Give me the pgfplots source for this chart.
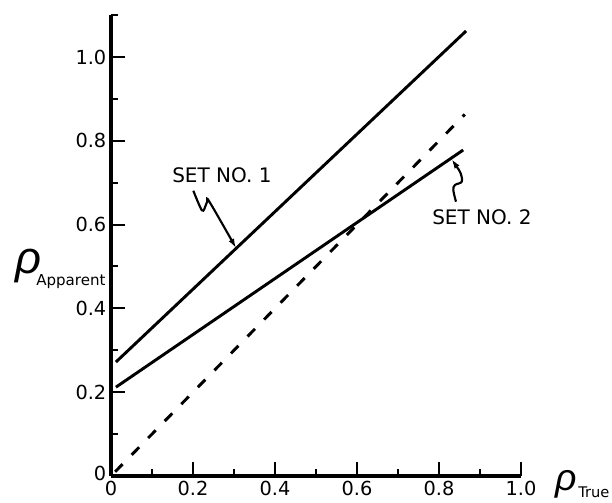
\documentclass[border=0pt]{standalone}
\usepackage{fontspec}
\setmainfont{DejaVu Sans}
\newfontfamily\rhofont{Liberation Sans}
\usepackage{pgfplots}
\pgfplotsset{compat=1.18}
\usetikzlibrary{arrows.meta}
\begin{document}
\begin{tikzpicture}
\begin{axis}[
  anchor=origin, at={(0,0)},
  x=307.5pt, y=314.25pt,
  xmin=0, xmax=1, ymin=0, ymax=1.1,
  axis lines*=left,
  axis line style={line width=2.4pt},
  xtick={0,0.2,0.4,0.6,0.8,1.0},
  xticklabels={0,0.2,0.4,0.6,0.8,1.0},
  minor xtick={0.1,0.3,0.5,0.7,0.9},
  ytick={0,0.2,0.4,0.6,0.8,1.0},
  yticklabels={\raisebox{4pt}{0},0.2,0.4,0.6,0.8,1.0},
  minor ytick={0.1,0.3,0.5,0.7,0.9,1.1},
  tick align=inside,
  major tick length=10.5pt, minor tick length=5pt,
  every tick/.style={black, line width=1.5pt},
  ticklabel style={font=\fontsize{14.5}{14.5}\selectfont},
  clip=false,
]
\addplot[black, line width=2.2pt] coordinates {(0.012,0.272) (0.866,1.062)};
\addplot[black, line width=2.2pt] coordinates {(0.012,0.212) (0.859,0.778)};
\addplot[black, line width=2.2pt, dash pattern=on 8pt off 9.75pt] coordinates {(0.01,0.01) (0.863,0.863)};
\coordinate (O) at (axis cs:0,0);
\end{axis}
\begin{scope}[shift={(O)}, shift={(-83.25pt,357pt)}, x=0.75pt, y=-0.75pt]
\node[anchor=base west, inner sep=0, font=\fontsize{15}{15}\selectfont] at (172,183) {SET NO. 1};
\node[anchor=base west, inner sep=0, font=\fontsize{15}{15}\selectfont] at (432,225) {SET NO. 2};
\draw[line width=1.6pt, -{Latex[length=7pt,width=4.5pt]}] plot[smooth, tension=0.6] coordinates {(193.3,190.7) (200,206.7) (203.3,210.7) (207.3,201.7) (210,202.7) (236,248)};
\draw[line width=1.6pt, -{Latex[length=7pt,width=4.5pt]}] plot[smooth, tension=0.6] coordinates {(456,201.7) (453.3,190) (455,185) (461.7,181.7) (460.7,173.3) (456.7,166.7) (451.7,159.3)};
\node[inner sep=0, font=\fontsize{34}{34}\selectfont\rhofont\itshape] at (28,266.5) {ρ};
\node[anchor=base west, inner sep=0, font=\fontsize{11.3}{11.3}\selectfont] at (36,286) {Apparent};
\node[inner sep=0, font=\fontsize{28}{28}\selectfont\rhofont\itshape] at (566,484) {ρ};
\node[anchor=base west, inner sep=0, font=\fontsize{11}{11}\selectfont] at (578,498) {True};
\pgfresetboundingbox
\path[use as bounding box] (0,0) rectangle (612,503);
\end{scope}
\end{tikzpicture}
\end{document}
